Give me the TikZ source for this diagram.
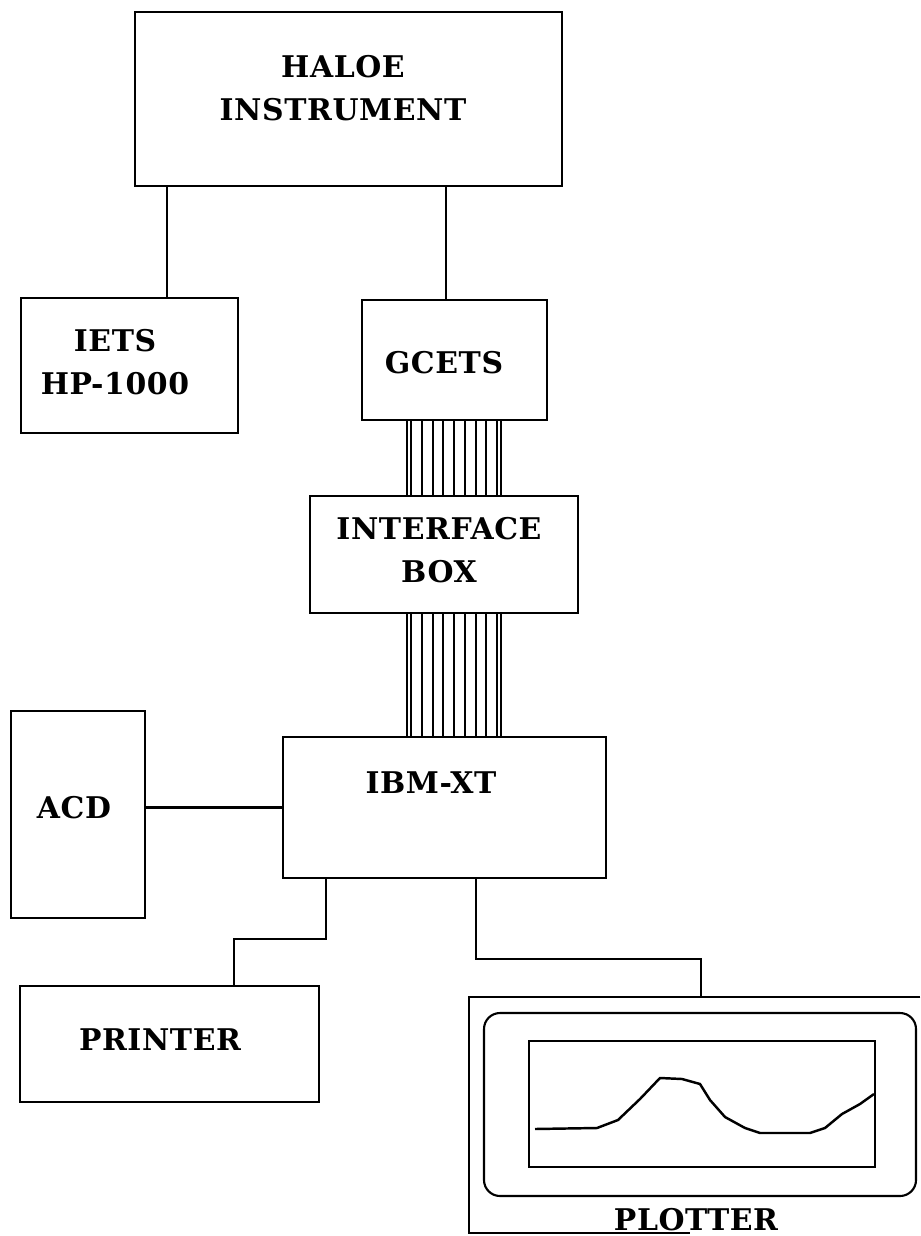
\documentclass[tikz,border=0pt]{standalone}
\usepackage{fontspec}
\newfontfamily\diagfont{DejaVu Serif}[LetterSpace=2]
\usetikzlibrary{positioning}
\tikzset{
  unitbox/.style={draw, line width=1.2pt, inner sep=0pt},
  unitlbl/.style={align=center, inner sep=0pt,
    font=\diagfont\bfseries\fontsize{17}{24.4}\selectfont},
  wire/.style={line width=1.2pt},
  bus/.style={line width=1pt},
}

\begin{document}
\begin{tikzpicture}[x=0.02cm, y=-0.02cm]
  \useasboundingbox (0,0) rectangle (920,1236);

  %% Instrument and test sets
  \node[unitbox, minimum width=8.54cm, minimum height=3.48cm] (haloe) at (348.5,99) {};
  \node[unitlbl] (haloelbl) at (343,88) {HALOE\\INSTRUMENT};
  \node[unitbox, minimum width=4.34cm, minimum height=2.7cm] (iets) at (129.5,365.5) {};
  \node[unitlbl] (ietslbl) at (115,362.5) {IETS\\HP-1000};
  \node[unitbox, minimum width=3.7cm, minimum height=2.4cm] (gcets) at (454.5,360) {};
  \node[unitlbl] (gcetslbl) at (444,363) {GCETS};

  %% Interface and computer
  \node[unitbox, minimum width=5.36cm, minimum height=2.34cm] (iface) at (444,554.5) {};
  \node[unitlbl] (ifacelbl) at (439,550) {INTERFACE\\BOX};
  \node[unitbox, minimum width=6.46cm, minimum height=2.82cm] (ibm) at (444.5,807.5) {};
  \node[unitlbl] (ibmlbl) at (431,783) {IBM-XT};
  \node[unitbox, minimum width=2.68cm, minimum height=4.14cm] (acd) at (78,814.5) {};
  \node[unitlbl] (acdlbl) at (74,808) {ACD};

  %% Output devices
  \node[unitbox, minimum width=5.98cm, minimum height=2.32cm] (printer) at (169.5,1044) {};
  \node[unitlbl] (printerlbl) at (160,1040) {PRINTER};
  \node[minimum width=9.02cm, minimum height=4.72cm, inner sep=0pt] (plotter) at (694.5,1115) {};
  \draw[wire] (plotter.north east) -- (plotter.north west) -- (plotter.south west) -- ++(221,0);
  \draw[wire, rounded corners=0.32cm] (484,1013) rectangle (916,1196);
  \draw[wire] (529,1041) rectangle (875,1167);
  \draw[line width=1.4pt] (535,1129) -- (597,1128) -- (618,1120) -- (640,1099) -- (660,1078)
    -- (682,1079) -- (700,1084) -- (710,1100) -- (725,1117) -- (745,1128) -- (760,1133)
    -- (810,1133) -- (825,1128) -- (842,1114) -- (860,1104) -- (874,1094);
  \node[unitlbl] (plotlbl) at (696,1220) {PLOTTER};

  %% Connectors
  \coordinate (tapA) at (167,0);
  \coordinate (tapB) at (446,0);
  \coordinate (tapC) at (326,0);
  \coordinate (tapD) at (476,0);
  \coordinate (prnbend) at (234,939);
  \coordinate (pltbend) at (701,959);
  \draw[wire] (haloe.south -| tapA) -- (iets.north -| tapA);
  \draw[wire] (haloe.south -| tapB) -- (gcets.north -| tapB);
  \draw[wire] (acd.east |- ibm.west) -- (ibm.west);
  \draw[wire] (ibm.south -| tapC) |- (prnbend) -- (printer.north -| prnbend);
  \draw[wire] (ibm.south -| tapD) |- (pltbend) -- (plotter.north -| pltbend);

  %% Cable bundles
  \foreach \bx in {407,411,422,433,443,454,465,476,486,497,501}{
    \coordinate (tap) at (\bx,0);
    \draw[bus] (gcets.south -| tap) -- (iface.north -| tap);
    \draw[bus] (iface.south -| tap) -- (ibm.north -| tap);
  }
\end{tikzpicture}
\end{document}
